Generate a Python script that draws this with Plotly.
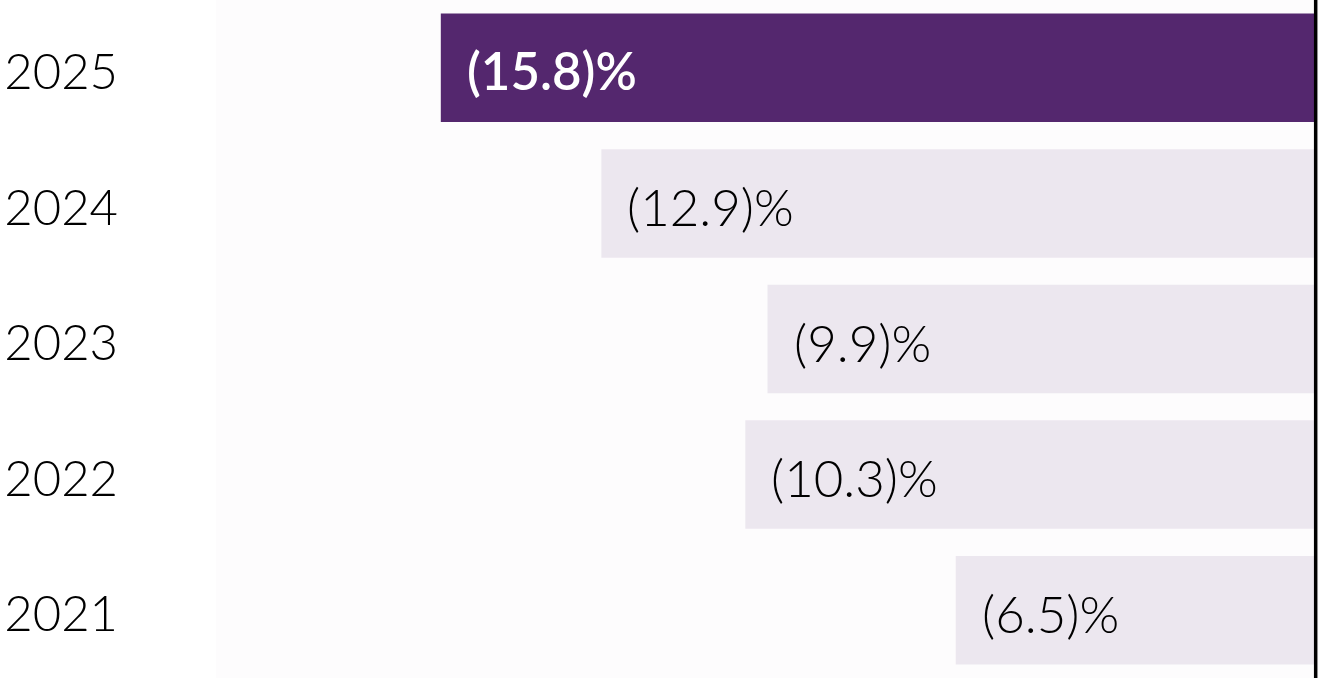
import plotly.graph_objects as go

years = ["2025", "2024", "2023", "2022", "2021"]
values = [-15.8, -12.9, -9.9, -10.3, -6.5]
labels = ["(15.8)%", "(12.9)%", "(9.9)%", "(10.3)%", "(6.5)%"]
highlight = [True, False, False, False, False]

PURPLE = "#54276E"
LIGHT = "#ECE7EF"

colors = [PURPLE if h else LIGHT for h in highlight]

fig = go.Figure()
fig.add_trace(go.Bar(
    x=values, y=years, orientation="h",
    marker=dict(color=colors, line=dict(width=0)),
    width=0.8,
    hoverinfo="skip",
))

# category axis: annotation y given as category index
for i, (v, t, h) in enumerate(zip(values, labels, highlight)):
    fig.add_annotation(
        x=v, y=i, xref="x", yref="y", text=t, showarrow=False,
        xanchor="left", yanchor="middle", xshift=24, yshift=-3,
        font=dict(family="Lato", size=51, color="white" if h else "black",
                  weight=600 if h else 300),
    )

fig.add_shape(type="line", xref="x", yref="paper", x0=0, x1=0, y0=0, y1=1,
              line=dict(color="black", width=3.5), layer="above")

fig.update_layout(
    width=1320, height=678,
    margin=dict(l=216, r=1, t=0, b=0, autoexpand=False),
    paper_bgcolor="white", plot_bgcolor="#FDFCFD",
    showlegend=False,
    xaxis=dict(range=[-19.86, 0.06], showgrid=False, zeroline=False,
               showticklabels=False, showline=False, fixedrange=True),
    yaxis=dict(type="category", categoryorder="array", categoryarray=years,
               range=[4.5, -0.5], autorange=False,
               showgrid=False, zeroline=False, showline=False, ticks="",
               ticklabelstandoff=97, ticklabelshift=-4, fixedrange=True, automargin=False,
               tickfont=dict(family="Lato", size=49, color="black", weight=300)),
)

fig.write_html("out.html", config={"displayModeBar": False},
               post_script="document.body.style.margin='0px';")
